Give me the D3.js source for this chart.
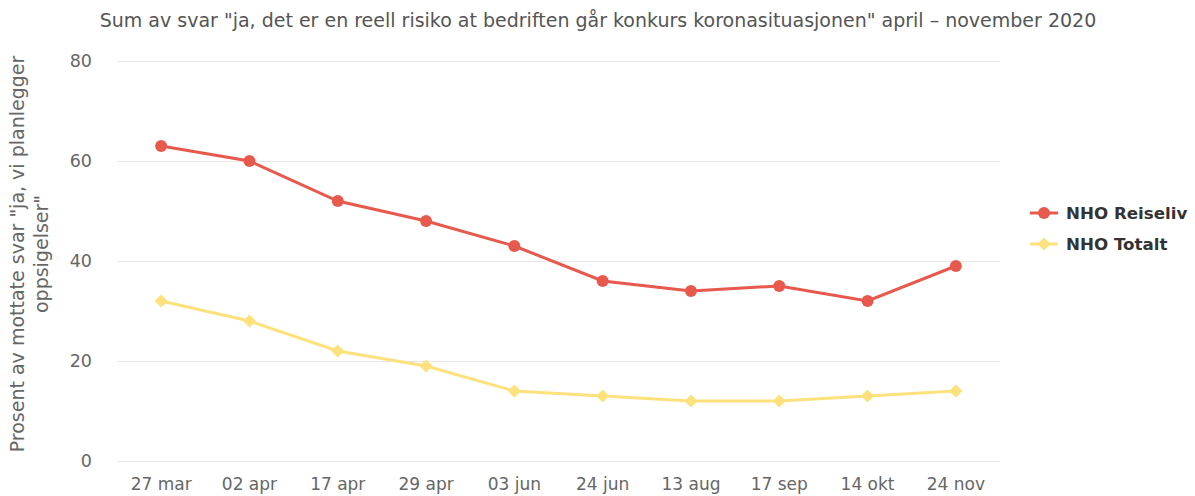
<!DOCTYPE html>
<html><head><meta charset="utf-8">
<script src="https://cdn.jsdelivr.net/npm/d3@7"></script>
<style>body{margin:0;background:#fff;}svg{display:block;font-family:"DejaVu Sans",sans-serif;}</style>
</head><body><div id="chart"></div>
<script>
const categories = ["27 mar","02 apr","17 apr","29 apr","03 jun","24 jun","13 aug","17 sep","14 okt","24 nov"];
const reiseliv = [63,60,52,48,43,36,34,35,32,39];
const totalt = [32,28,22,19,14,13,12,12,13,14];
const yTicks = [0,20,40,60,80];
const seriesNames = ["NHO Reiseliv","NHO Totalt"];
const colors = ["#e8594d","#fde17c"];

const W=1195,H=496;
const m={left:117,right:195,top:61,bottom:35};
const svg=d3.select("#chart").append("svg").attr("width",W).attr("height",H);
const x=d3.scaleBand().domain(categories).range([m.left,W-m.right]);
const y=d3.scaleLinear().domain([0,80]).range([H-m.bottom,m.top]);

// grid
svg.append("g").selectAll("line").data(yTicks).join("line")
  .attr("x1",m.left).attr("x2",W-m.right)
  .attr("y1",d=>y(d)+0.5).attr("y2",d=>y(d)+0.5)
  .attr("stroke","#e6e6e6").attr("stroke-width",1);

// y labels
svg.append("g").selectAll("text").data(yTicks).join("text")
  .attr("x",92).attr("y",d=>y(d)).attr("dy","0.35em").attr("text-anchor","end")
  .attr("fill","#666").attr("font-size",17.5).text(d=>d);

// x labels
svg.append("g").selectAll("text").data(categories).join("text")
  .attr("x",d=>x(d)+x.bandwidth()/2).attr("y",490).attr("text-anchor","middle")
  .attr("fill","#666").attr("font-size",17).text(d=>d);

// title
svg.append("text").attr("x",598).attr("y",20).attr("dy","0.35em").attr("text-anchor","middle")
  .attr("fill","#555").attr("font-size",19)
  .text('Sum av svar "ja, det er en reell risiko at bedriften går konkurs koronasituasjonen" april – november 2020');

// y-axis title
const yt=svg.append("text").attr("transform",`translate(0,254) rotate(-90)`)
  .attr("text-anchor","middle").attr("fill","#666").attr("font-size",19);
yt.append("tspan").attr("x",0).attr("y",24).text('Prosent av mottate svar "ja, vi planlegger');
yt.append("tspan").attr("x",0).attr("y",48).text('oppsigelser"');

const cx=d=>x(d)+x.bandwidth()/2;
const line=d3.line().x((d,i)=>cx(categories[i])).y(d=>y(d));
const diamond=d3.symbol().type(d3.symbolDiamond2).size(110);

// Totalt
svg.append("path").datum(totalt).attr("d",line).attr("fill","none").attr("stroke",colors[1]).attr("stroke-width",3);
svg.append("g").selectAll("path").data(totalt).join("path")
  .attr("transform",(d,i)=>`translate(${cx(categories[i])},${y(d)})`)
  .attr("d",diamond).attr("fill",colors[1]);

// Reiseliv
svg.append("path").datum(reiseliv).attr("d",line).attr("fill","none").attr("stroke",colors[0]).attr("stroke-width",3);
svg.append("g").selectAll("circle").data(reiseliv).join("circle")
  .attr("cx",(d,i)=>cx(categories[i])).attr("cy",d=>y(d)).attr("r",6).attr("fill",colors[0]);

// legend
const lg=svg.append("g");
seriesNames.forEach((n,i)=>{
  const ly=213+i*31;
  lg.append("line").attr("x1",1030).attr("x2",1058).attr("y1",ly).attr("y2",ly).attr("stroke",colors[i]).attr("stroke-width",3);
  if(i===0) lg.append("circle").attr("cx",1044).attr("cy",ly).attr("r",6).attr("fill",colors[i]);
  else lg.append("path").attr("transform",`translate(1044,${ly})`).attr("d",diamond).attr("fill",colors[i]);
  lg.append("text").attr("x",1066).attr("y",ly).attr("dy","0.35em").attr("font-size",16.7).attr("font-weight","bold").attr("fill","#333").text(n);
});
</script></body></html>
